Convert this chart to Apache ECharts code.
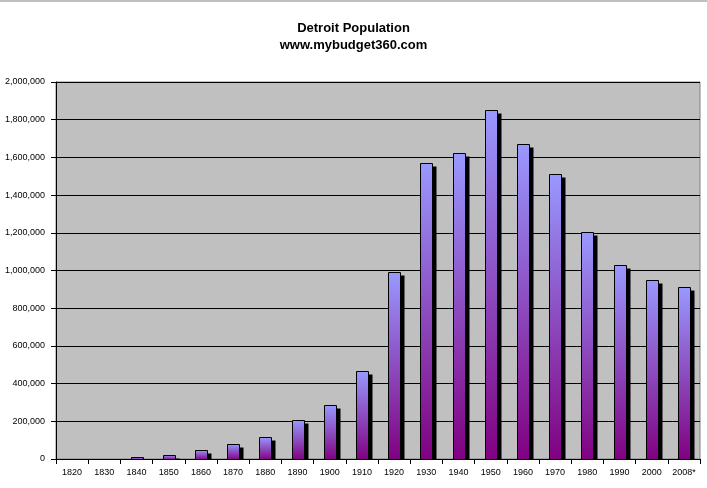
<!DOCTYPE html>
<html>
<head>
<meta charset="utf-8">
<script src="https://cdn.jsdelivr.net/npm/echarts@6/dist/echarts.min.js"></script>
<style>
  html, body { margin: 0; padding: 0; background: #fff; }
  #chart { width: 707px; height: 488px; }
</style>
</head>
<body>
<div id="chart"></div>
<script>
const years = ['1820', '1830', '1840', '1850', '1860', '1870', '1880', '1890', '1900', '1910',
  '1920', '1930', '1940', '1950', '1960', '1970', '1980', '1990', '2000', '2008*']
// 1820 and 1830 show no bar in the picture
const population = [null, null, 9102, 21019, 45619, 79577, 116340, 205876, 285704, 465766,
  993678, 1568662, 1623452, 1849568, 1670144, 1514063, 1203339, 1027974, 951270, 912062]
const yTicks = [0, 200000, 400000, 600000, 800000, 1000000, 1200000, 1400000, 1600000, 1800000, 2000000]

const chart = echarts.init(document.getElementById('chart'))

const fmt = v => v.toLocaleString('en-US')
const labelFont = 'Liberation Sans, Arial, sans-serif'

// bar with a hard black drop shadow, like the old Excel look
const renderBar = (params, api) => {
  const v = api.value(1)
  if (v == null || isNaN(v)) return null
  const top = api.coord([api.value(0), v])
  const base = api.coord([api.value(0), 0])
  const w = 12
  const x = Math.round(top[0] - w / 2) + 0.5
  const y = Math.round(top[1]) + 0.5
  const h = Math.round(base[1]) - Math.round(top[1])
  return {
    type: 'group',
    children: [{
      type: 'rect',
      shape: { x: x + 4, y: y + 3, width: w, height: Math.max(h - 3, 0) },
      style: { fill: '#000' }
    }, {
      type: 'rect',
      shape: { x: x, y: y, width: w, height: h },
      style: {
        fill: new echarts.graphic.LinearGradient(0, 0, 0, 1, [
          { offset: 0, color: '#9999ff' },
          { offset: 1, color: '#800080' }
        ]),
        stroke: '#000',
        lineWidth: 1
      }
    }]
  }
}

const option = {
  animation: false,
  backgroundColor: '#fff',
  title: {
    text: 'Detroit Population\nwww.mybudget360.com',
    left: 'center',
    top: 15,
    textStyle: {
      fontFamily: labelFont,
      fontSize: 13,
      fontWeight: 'bold',
      color: '#000',
      lineHeight: 17
    }
  },
  graphic: [{
    type: 'rect',
    shape: { x: 0, y: 0, width: 707, height: 2 },
    style: { fill: '#c0c0c0' }
  }],
  grid: {
    left: 56,
    top: 82,
    width: 644,
    height: 377,
    show: true,
    backgroundColor: '#c0c0c0',
    borderColor: '#808080',
    borderWidth: 1
  },
  xAxis: {
    type: 'category',
    data: years,
    axisLine: { lineStyle: { color: '#000', width: 1 } },
    axisTick: { show: true, length: 5, lineStyle: { color: '#000' } },
    axisLabel: {
      interval: 0,
      color: '#000',
      fontFamily: labelFont,
      fontSize: 9,
      margin: 9
    }
  },
  yAxis: {
    type: 'value',
    min: yTicks[0],
    max: yTicks[yTicks.length - 1],
    interval: 200000,
    axisLine: { show: true, lineStyle: { color: '#000', width: 1 } },
    axisTick: { show: true, length: 5, lineStyle: { color: '#000' } },
    splitLine: { lineStyle: { color: '#000', width: 1 } },
    axisLabel: {
      color: '#000',
      fontFamily: labelFont,
      fontSize: 9,
      margin: 11,
      formatter: v => fmt(v)
    }
  },
  series: [{
    type: 'custom',
    renderItem: renderBar,
    encode: { x: 0, y: 1 },
    data: population.map((v, i) => [i, v])
  }]
}

chart.setOption(option)
</script>
</body>
</html>
